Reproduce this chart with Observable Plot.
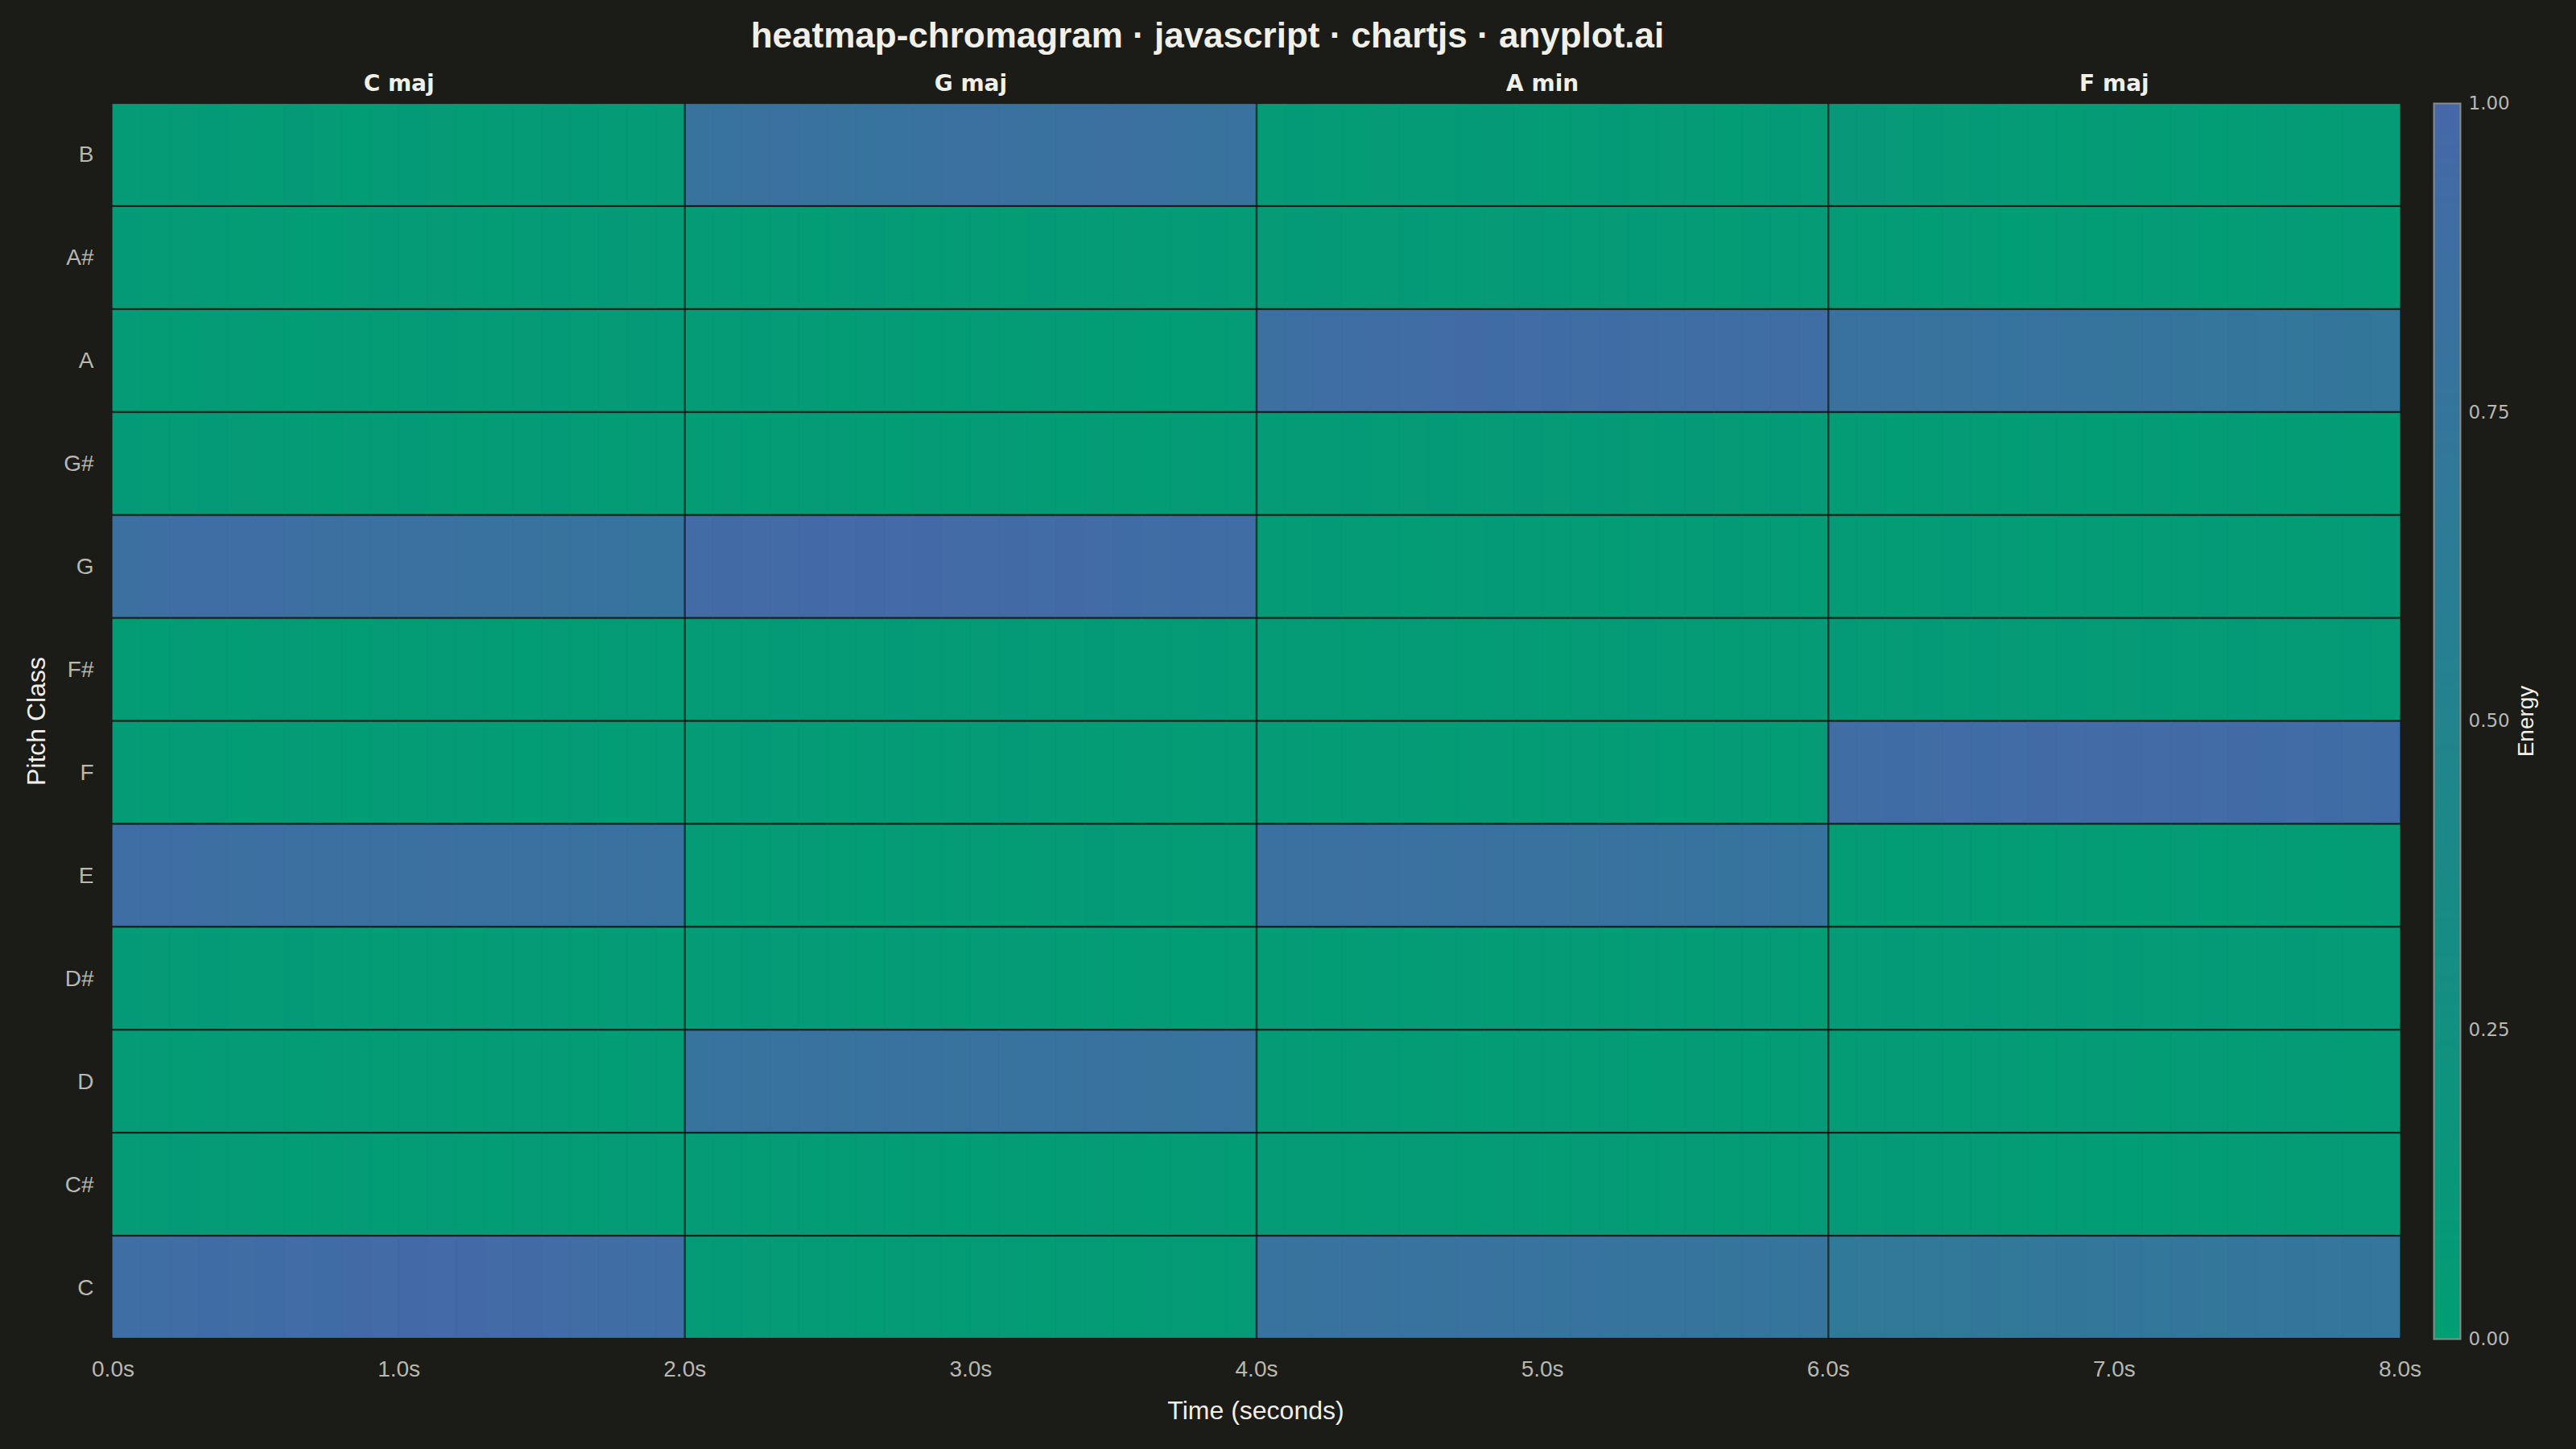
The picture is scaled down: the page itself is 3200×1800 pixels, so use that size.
<!DOCTYPE html>
<html>
<head>
<meta charset="utf-8">
<script src="https://cdn.jsdelivr.net/npm/d3@7"></script>
<script src="https://cdn.jsdelivr.net/npm/@observablehq/plot@0.6"></script>
<style>
  html, body { margin: 0; padding: 0; background: #1b1b18; }
  #page { position: relative; width: 3200px; height: 1800px; background: #1b1b18; overflow: hidden; font-family: "Liberation Sans", Arial, sans-serif; }
  .abs { position: absolute; white-space: nowrap; line-height: 1; }
  #title { left: 1500px; top: 22px; transform: translateX(-50%); font-size: 44px; font-weight: bold; color: #f0efe8; }
  #xlabel { left: 1560px; top: 1736px; transform: translateX(-50%); font-size: 32px; color: #f0efe8; }
  #ylabel { left: 45px; top: 896px; transform: translate(-50%, -50%) rotate(-90deg); font-size: 32px; color: #f0efe8; }
  #clabel { left: 3138px; top: 896px; transform: translate(-50%, -50%) rotate(-90deg); font-size: 28px; color: #f0efe8; }
  #main { position: absolute; left: 0; top: 0; }
  #cbar { position: absolute; left: 2900px; top: 0; }
</style>
</head>
<body>
<div id="page">
  <div id="main"></div>
  <div id="cbar"></div>
  <div class="abs" id="title">heatmap-chromagram · javascript · chartjs · anyplot.ai</div>
  <div class="abs" id="xlabel">Time (seconds)</div>
  <div class="abs" id="ylabel">Pitch Class</div>
  <div class="abs" id="clabel">Energy</div>
</div>
<script>
// ---------------- data ----------------
const pitchClasses = ["B", "A#", "A", "G#", "G", "F#", "F", "E", "D#", "D", "C#", "C"];
const chordNames = ["C maj", "G maj", "A min", "F maj"];
const chordStarts = [0, 2, 4, 6];
const chordEnds = [2, 4, 6, 8];
const chordBoundaries = [2, 4, 6];
const hop = 0.1;
const frameTimes = [
  0.0,0.1,0.2,0.3,0.4,0.5,0.6,0.7,0.8,0.9,1.0,1.1,1.2,1.3,1.4,1.5,1.6,1.7,1.8,1.9,
  2.0,2.1,2.2,2.3,2.4,2.5,2.6,2.7,2.8,2.9,3.0,3.1,3.2,3.3,3.4,3.5,3.6,3.7,3.8,3.9,
  4.0,4.1,4.2,4.3,4.4,4.5,4.6,4.7,4.8,4.9,5.0,5.1,5.2,5.3,5.4,5.5,5.6,5.7,5.8,5.9,
  6.0,6.1,6.2,6.3,6.4,6.5,6.6,6.7,6.8,6.9,7.0,7.1,7.2,7.3,7.4,7.5,7.6,7.7,7.8,7.9
];
const timeTicks = [0, 1, 2, 3, 4, 5, 6, 7, 8];
const energyTicks = [0, 0.25, 0.5, 0.75, 1];

const energyB = [
  .06,.05,.08,.07,.05,.04,.09,.06,.03,.05,.07,.08,.04,.06,.05,.09,.07,.05,.06,.08,
  .80,.79,.81,.83,.82,.80,.78,.79,.81,.84,.85,.83,.82,.84,.86,.85,.83,.81,.80,.82,
  .05,.07,.06,.04,.08,.06,.05,.07,.09,.06,.04,.05,.07,.06,.08,.05,.03,.06,.07,.05,
  .12,.11,.10,.09,.08,.07,.06,.05,.04,.05,.06,.04,.05,.03,.04,.06,.05,.04,.06,.05
];
const energyAs = [
  .07,.06,.08,.05,.04,.06,.03,.02,.05,.07,.06,.08,.05,.04,.06,.07,.05,.09,.08,.06,
  .06,.05,.04,.06,.03,.05,.07,.06,.04,.05,.06,.04,.07,.05,.06,.08,.06,.05,.07,.06,
  .08,.07,.09,.06,.08,.07,.05,.06,.08,.09,.07,.06,.08,.07,.05,.06,.04,.07,.06,.05,
  .05,.04,.06,.03,.05,.04,.02,.04,.05,.03,.04,.06,.05,.03,.04,.05,.06,.04,.05,.03
];
const energyA = [
  .05,.04,.03,.05,.06,.04,.03,.05,.06,.04,.05,.07,.06,.05,.08,.07,.06,.08,.09,.07,
  .06,.05,.07,.06,.05,.04,.06,.05,.03,.04,.05,.04,.06,.05,.03,.04,.02,.03,.04,.05,
  .86,.87,.88,.89,.90,.91,.93,.94,.92,.93,.92,.91,.92,.90,.89,.91,.90,.89,.90,.88,
  .82,.81,.81,.80,.80,.79,.78,.79,.77,.78,.76,.77,.76,.75,.74,.75,.73,.74,.72,.73
];
const energyGs = [
  .07,.06,.05,.07,.08,.06,.05,.04,.06,.05,.07,.06,.04,.05,.06,.07,.05,.04,.06,.05,
  .04,.05,.03,.04,.06,.05,.04,.03,.05,.04,.06,.05,.04,.03,.05,.04,.03,.05,.04,.06,
  .05,.06,.05,.07,.06,.08,.07,.06,.08,.09,.08,.07,.09,.08,.07,.09,.08,.06,.07,.06,
  .04,.05,.03,.04,.05,.04,.03,.05,.04,.03,.04,.05,.03,.04,.05,.03,.04,.05,.04,.03
];
const energyG = [
  .86,.87,.88,.89,.89,.88,.87,.86,.85,.84,.83,.83,.82,.81,.81,.80,.79,.79,.78,.78,
  .93,.94,.95,.95,.96,.97,.96,.97,.96,.95,.95,.94,.93,.94,.93,.92,.91,.92,.91,.90,
  .06,.05,.07,.06,.05,.04,.06,.05,.07,.06,.05,.06,.04,.05,.06,.05,.07,.06,.05,.04,
  .05,.06,.04,.05,.07,.06,.05,.04,.06,.05,.04,.06,.05,.07,.06,.05,.04,.06,.05,.07
];
const energyFs = [
  .04,.03,.05,.04,.03,.05,.06,.04,.03,.05,.04,.06,.05,.04,.03,.05,.04,.06,.05,.04,
  .05,.06,.05,.07,.06,.05,.06,.07,.05,.06,.08,.07,.06,.05,.07,.06,.05,.06,.07,.05,
  .06,.05,.06,.04,.05,.06,.05,.04,.06,.05,.04,.05,.06,.07,.05,.06,.04,.05,.06,.05,
  .07,.06,.08,.07,.06,.07,.08,.06,.07,.06,.08,.07,.06,.05,.07,.06,.05,.06,.07,.06
];
const energyF = [
  .05,.04,.06,.05,.03,.04,.05,.04,.03,.05,.04,.06,.05,.04,.03,.04,.05,.03,.04,.05,
  .06,.05,.07,.06,.05,.04,.06,.05,.04,.06,.05,.07,.06,.05,.04,.06,.05,.04,.06,.05,
  .05,.06,.04,.05,.06,.05,.04,.06,.05,.04,.05,.06,.04,.05,.03,.04,.05,.06,.04,.05,
  .90,.91,.92,.91,.93,.92,.93,.94,.93,.95,.94,.95,.94,.93,.94,.92,.93,.92,.91,.92
];
const energyE = [
  .88,.89,.88,.87,.86,.87,.86,.85,.86,.85,.84,.85,.84,.83,.84,.83,.82,.83,.82,.81,
  .06,.05,.04,.06,.05,.04,.03,.05,.04,.06,.05,.04,.06,.05,.07,.06,.05,.04,.06,.05,
  .83,.84,.83,.85,.84,.83,.82,.83,.81,.82,.81,.80,.81,.79,.80,.79,.78,.79,.77,.78,
  .04,.05,.03,.04,.05,.03,.04,.03,.05,.04,.03,.04,.05,.03,.04,.05,.04,.03,.04,.05
];
const energyDs = [
  .07,.08,.06,.07,.05,.06,.07,.05,.06,.04,.05,.06,.04,.05,.06,.05,.04,.06,.05,.04,
  .06,.05,.07,.06,.05,.06,.04,.05,.06,.04,.05,.06,.05,.04,.05,.03,.04,.02,.03,.04,
  .04,.05,.03,.04,.05,.04,.06,.05,.04,.05,.06,.05,.04,.06,.05,.04,.05,.06,.05,.04,
  .05,.06,.07,.05,.06,.07,.06,.08,.07,.06,.07,.05,.06,.07,.06,.05,.07,.06,.05,.06
];
const energyD = [
  .05,.06,.04,.05,.06,.05,.04,.06,.05,.04,.05,.06,.04,.05,.06,.05,.04,.03,.05,.04,
  .78,.79,.80,.79,.81,.80,.79,.81,.82,.80,.81,.80,.79,.80,.81,.79,.80,.78,.79,.80,
  .06,.05,.04,.05,.06,.04,.05,.03,.04,.05,.06,.04,.05,.03,.04,.05,.04,.03,.04,.05,
  .04,.05,.06,.05,.04,.05,.06,.04,.05,.06,.05,.04,.05,.06,.04,.05,.06,.05,.04,.05
];
const energyCs = [
  .06,.05,.07,.06,.05,.04,.03,.04,.05,.03,.04,.05,.04,.03,.05,.06,.04,.05,.06,.04,
  .05,.06,.04,.05,.03,.04,.05,.03,.04,.02,.03,.04,.03,.04,.05,.04,.03,.04,.05,.03,
  .06,.05,.06,.04,.05,.06,.05,.04,.06,.05,.04,.05,.06,.04,.05,.06,.04,.05,.04,.05,
  .07,.06,.07,.05,.06,.05,.04,.03,.04,.03,.02,.03,.04,.03,.04,.05,.04,.05,.06,.05
];
const energyC = [
  .88,.89,.90,.92,.91,.92,.93,.92,.94,.95,.96,.97,.96,.95,.94,.93,.91,.90,.89,.90,
  .06,.07,.08,.06,.05,.06,.04,.05,.06,.04,.05,.06,.04,.05,.06,.04,.05,.06,.04,.05,
  .79,.80,.79,.81,.80,.79,.80,.81,.80,.79,.78,.79,.78,.77,.78,.77,.76,.77,.76,.77,
  .69,.70,.71,.70,.71,.72,.71,.73,.72,.73,.74,.73,.74,.73,.74,.75,.74,.75,.74,.75
];

const energyByPitch = {
  "B": energyB, "A#": energyAs, "A": energyA, "G#": energyGs, "G": energyG, "F#": energyFs,
  "F": energyF, "E": energyE, "D#": energyDs, "D": energyD, "C#": energyCs, "C": energyC
};

// ---------------- build table ----------------
const cells = [];
for (const p of pitchClasses) {
  energyByPitch[p].forEach((v, i) => cells.push({pitch: p, t: frameTimes[i], energy: v}));
}
const chords = chordNames.map((name, i) => ({name, start: chordStarts[i], end: chordEnds[i]}));

const colorScale = {type: "linear", domain: [0, 1], range: ["#009E73", "#4668A9"], interpolate: "rgb"};
const tickColor = "#b8b8b0";

const main = Plot.plot({
  width: 3200,
  height: 1800,
  marginLeft: 140,
  marginRight: 219,
  marginTop: 128,
  marginBottom: 137,
  style: {background: "transparent", color: tickColor, fontFamily: "Liberation Sans, Arial, sans-serif", fontSize: "28px"},
  x: {domain: [0, 8], ticks: timeTicks, tickFormat: d => d.toFixed(1) + "s", tickSize: 0, tickPadding: 27, label: null},
  y: {type: "band", domain: pitchClasses, padding: 0, round: false, tickSize: 0, tickPadding: 24, label: null},
  color: colorScale,
  marks: [
    Plot.barX(cells, {x1: "t", x2: d => d.t + hop, y: "pitch", fill: "energy", stroke: "energy", strokeWidth: 0.8, insetTop: 1.5, insetBottom: 1.5}),
    Plot.ruleX(chordBoundaries, {stroke: "#101010", strokeOpacity: 0.65, strokeWidth: 2.5}),
    Plot.text(chords, {x: d => (d.start + d.end) / 2, text: "name", frameAnchor: "top", lineAnchor: "bottom", dy: -16,
      fill: "#f0efe8", fontWeight: "bold", fontSize: 28, fontFamily: "DejaVu Sans, sans-serif"})
  ]
});
document.getElementById("main").appendChild(main);

const gradientStops = d3.range(0, 1, 0.005);
const cbar = Plot.plot({
  width: 300,
  height: 1800,
  marginLeft: 123,
  marginRight: 144,
  marginTop: 128,
  marginBottom: 137,
  style: {background: "transparent", color: tickColor, fontFamily: "DejaVu Sans, sans-serif", fontSize: "23px"},
  x: {axis: null},
  y: {domain: [0, 1], ticks: energyTicks, tickFormat: d3.format(".2f"), tickSize: 0, tickPadding: 10, axis: "right", label: null},
  color: colorScale,
  marks: [
    Plot.rect(gradientStops, {y1: d => d, y2: d => Math.min(1, d + 0.006), fill: d => d}),
    Plot.frame({stroke: "#8a8a86", strokeWidth: 2})
  ]
});
document.getElementById("cbar").appendChild(cbar);
</script>
</body>
</html>
